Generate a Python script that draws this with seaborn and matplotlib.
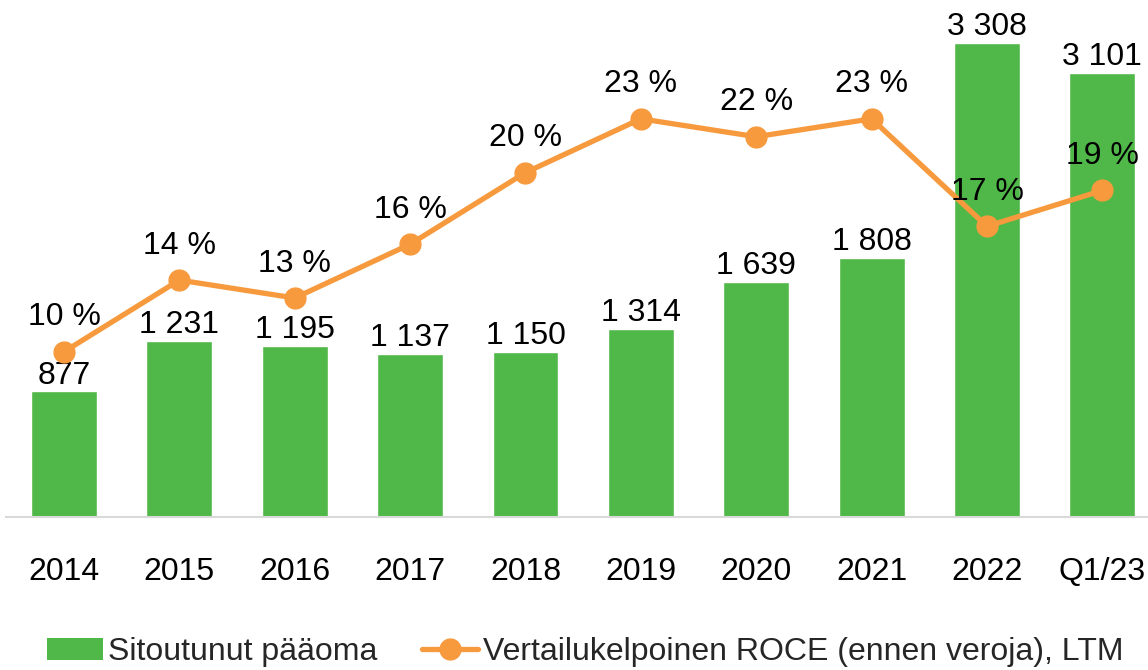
import matplotlib
matplotlib.use("Agg")
import matplotlib.pyplot as plt
import seaborn as sns
import pandas as pd
from matplotlib.lines import Line2D
from matplotlib.patches import Patch

periods = ["2014", "2015", "2016", "2017", "2018", "2019", "2020", "2021", "2022", "Q1/23"]
capital = [877, 1231, 1195, 1137, 1150, 1314, 1639, 1808, 3308, 3101]
roce = [10, 14, 13, 16, 20, 23, 22, 23, 17, 19]

bar_name = "Sitoutunut pääoma"
line_name = "Vertailukelpoinen ROCE (ennen veroja), LTM"

green = "#50B848"
orange = "#F79A3E"
fs = 23

sns.set_theme(style="white")
plt.rcParams["font.family"] = ["Liberation Sans", "DejaVu Sans"]

df = pd.DataFrame({"period": periods, "capital": capital, "roce": roce})

fig = plt.figure(figsize=(11.48, 6.70), dpi=100)
ax = fig.add_axes([0.0055, 0.2284, 1.005, 0.7716])

sns.barplot(data=df, x="period", y="capital", color=green, width=0.57,
            saturation=1, ax=ax, zorder=2)
ax.set_ylim(0, 3608)
ax.set_xlim(-0.5, len(periods) - 0.5)

for i, v in enumerate(capital):
    txt = f"{v:,}".replace(",", " ")
    ax.annotate(txt, (i, v), xytext=(0, 0.5), textcoords="offset points",
                ha="center", va="bottom", fontsize=fs, color="black", zorder=3)

ax2 = ax.twinx()
ax2.plot(range(len(periods)), roce, color=orange, lw=3.8, marker="o",
         markersize=15, zorder=4)
ax2.set_ylim(0.78, 29.63)
ax2.set_xlim(-0.5, len(periods) - 0.5)
for i, v in enumerate(roce):
    ax2.annotate(f"{v} %", (i, v), xytext=(0, 14), textcoords="offset points",
                 ha="center", va="bottom", fontsize=fs, color="black", zorder=5)

for a in (ax, ax2):
    for s in a.spines.values():
        s.set_visible(False)
    a.set_yticks([])
    a.set_ylabel("")
    a.set_xlabel("")
ax.spines["bottom"].set_visible(True)
ax.spines["bottom"].set_color("#D9D9D9")
ax.spines["bottom"].set_linewidth(1.5)
ax.tick_params(axis="x", length=0, pad=29, labelsize=fs, labelcolor="black")

handles = [Patch(facecolor=green, edgecolor="none"),
           Line2D([0], [0], color=orange, lw=3.8, marker="o", markersize=15)]
fig.legend(handles, [bar_name, line_name], loc="center", ncol=2,
           bbox_to_anchor=(0.51, 0.027), frameon=False, fontsize=fs,
           handlelength=1.75, handletextpad=0.15, columnspacing=1.4)

fig.savefig("out.png", dpi=100)
